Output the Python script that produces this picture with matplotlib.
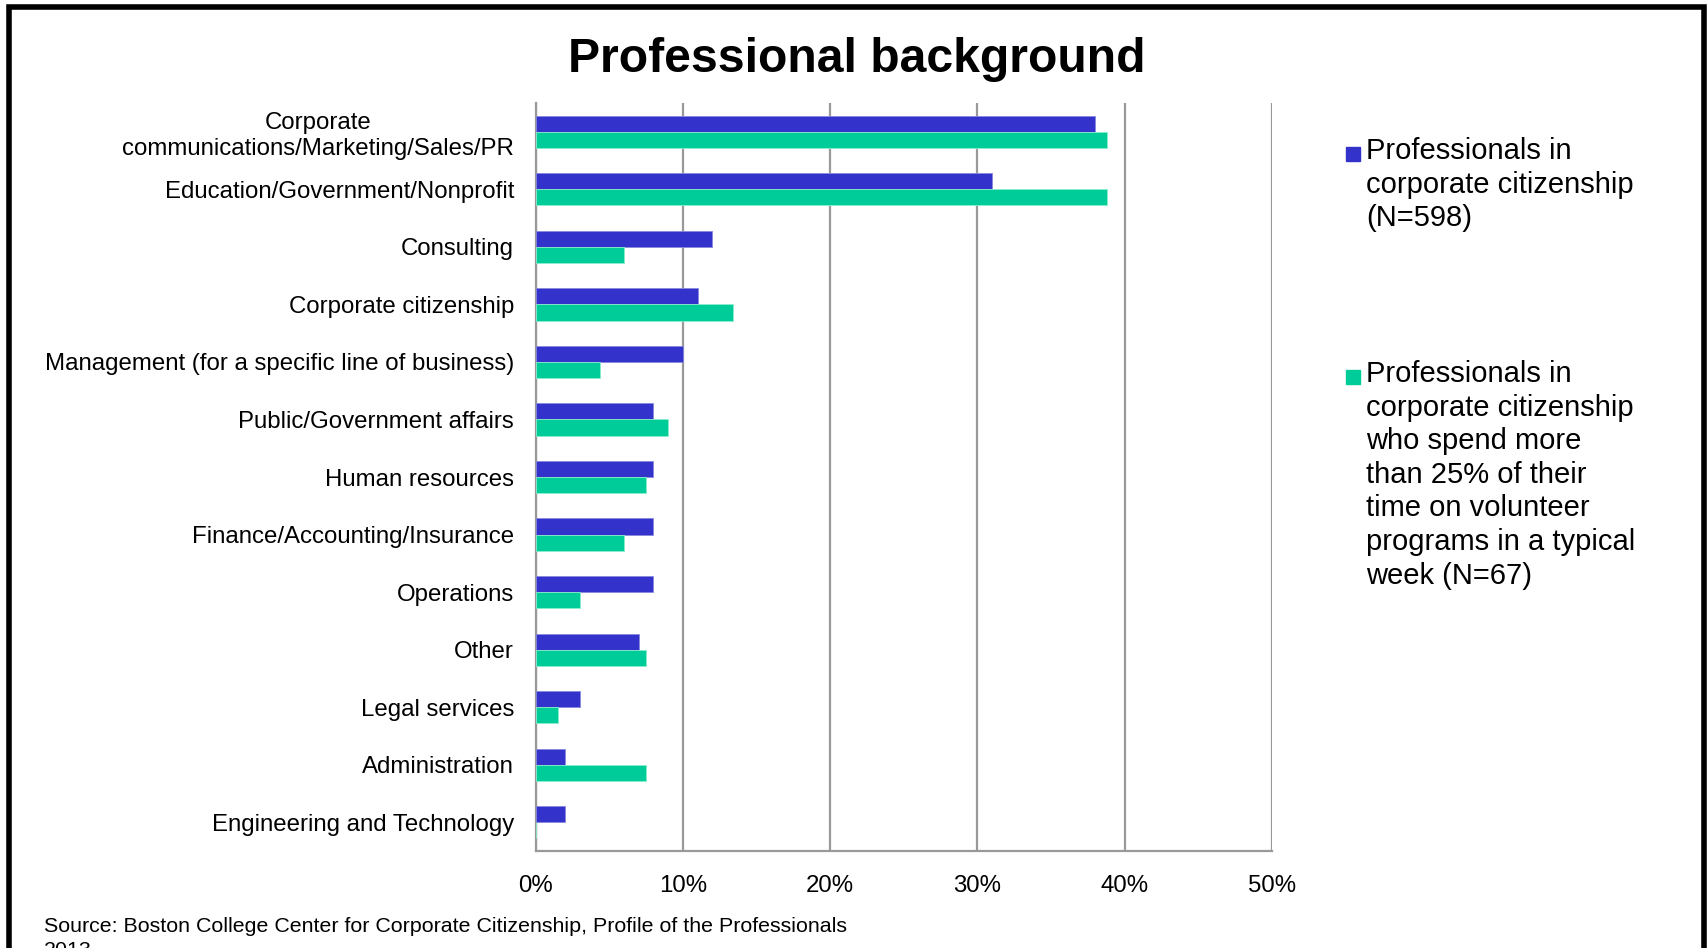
import matplotlib.pyplot as plt
import numpy as np
from matplotlib.patches import Rectangle
from matplotlib.ticker import PercentFormatter

plt.rcParams['font.family'] = ['Liberation Sans', 'DejaVu Sans']

categories = [
    "Corporate\ncommunications/Marketing/Sales/PR",
    "Education/Government/Nonprofit",
    "Consulting",
    "Corporate citizenship",
    "Management (for a specific line of business)",
    "Public/Government affairs",
    "Human resources",
    "Finance/Accounting/Insurance",
    "Operations",
    "Other",
    "Legal services",
    "Administration",
    "Engineering and Technology",
]
all_pros = [38, 31, 12, 11, 10, 8, 8, 8, 8, 7, 3, 2, 2]
volunteer_pros = [38.8, 38.8, 6, 13.4, 4.4, 9, 7.5, 6, 3, 7.5, 1.5, 7.5, 0]
legend_labels = [
    "Professionals in\ncorporate citizenship\n(N=598)",
    "Professionals in\ncorporate citizenship\nwho spend more\nthan 25% of their\ntime on volunteer\nprograms in a typical\nweek (N=67)",
]
blue = "#3333CC"
green = "#00CC99"

fig = plt.figure(figsize=(17.07, 9.48), dpi=100)
ax = fig.add_axes([0.3138, 0.1023, 0.4314, 0.789])

y = np.arange(len(categories))
h = 0.28
ax.barh(y - h / 2, all_pros, height=h, color=blue, edgecolor='#8888DD', linewidth=0.6, zorder=3)
ax.barh(y + h / 2, volunteer_pros, height=h, color=green, edgecolor='#88EECC', linewidth=0.6, zorder=3)

ax.set_xlim(0, 50)
ax.set_ylim(len(categories) - 0.5, -0.5)
ax.set_xticks(np.arange(0, 51, 10))
ax.xaxis.set_major_formatter(PercentFormatter(decimals=0))
ax.set_yticks(y)
ax.set_yticklabels(categories, multialignment='center')
ax.tick_params(axis='both', length=0, labelsize=17.3)
ax.tick_params(axis='x', pad=17)
ax.tick_params(axis='y', pad=15.5)
ax.grid(axis='x', color='#999999', linewidth=1.6, zorder=0)
for s in ['top', 'right']:
    ax.spines[s].set_visible(False)
for s in ['left', 'bottom']:
    ax.spines[s].set_color('#999999')
    ax.spines[s].set_linewidth(1.6)

fig.text(857 / 1707, 1 - 59 / 948, "Professional background", ha='center', va='center',
         fontsize=34.7, fontweight='bold')

# legend drawn by hand so the squares line up with the first line
for lab, col, ytop in zip(legend_labels, [blue, green], [137, 360]):
    fig.text(1366 / 1707, 1 - ytop / 948, lab, ha='left', va='top', fontsize=21,
             linespacing=1.255)
    fig.patches.append(Rectangle((1346 / 1707, 1 - (ytop + 24) / 948), 14 / 1707, 14 / 948,
                                 transform=fig.transFigure, color=col))

fig.text(44 / 1707, 1 - 917 / 948,
         "Source: Boston College Center for Corporate Citizenship, Profile of the Professionals\n2013",
         ha='left', va='top', fontsize=15.4, linespacing=1.3)

fig.patches.append(Rectangle((9 / 1707, -0.1), 1695 / 1707, 1.1 - 7 / 948, transform=fig.transFigure,
                             fill=False, edgecolor='black', linewidth=4))

fig.savefig("out.png", dpi=100)
